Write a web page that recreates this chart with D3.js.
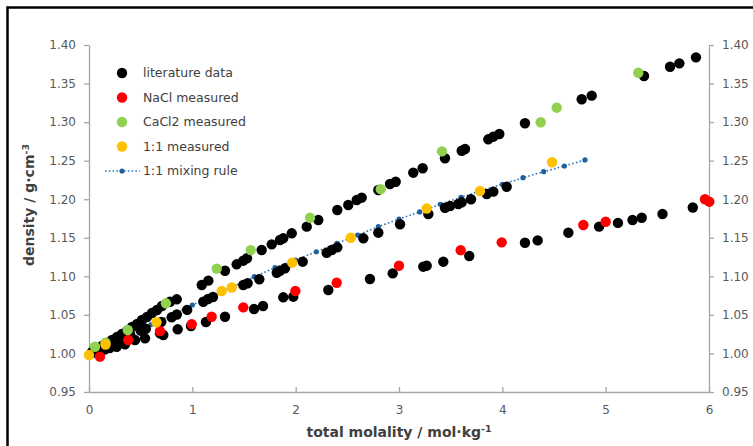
<!DOCTYPE html>
<html>
<head>
<meta charset="utf-8">
<script src="https://cdn.jsdelivr.net/npm/d3@7"></script>
<style>
  html, body { margin: 0; padding: 0; background: #fff; }
  svg { display: block; font-family: "DejaVu Sans", Verdana, sans-serif; }
</style>
</head>
<body>
<svg id="chart" width="753" height="446"></svg>
<script>
// ---- data: density (g/cm3) vs total molality (mol/kg) ----
const litMolality = [
  // CaCl2 literature
  0.029, 0.077, 0.126, 0.174, 0.223, 0.271, 0.319, 0.368, 0.416, 0.465, 0.513, 0.561, 0.610, 0.658, 0.706,
  0.784, 0.849, 1.091, 1.155, 1.316, 1.429, 1.493, 1.529, 1.671, 1.768, 1.848, 1.880, 1.962, 2.107, 2.219,
  2.403, 2.509, 2.591, 2.639, 2.800, 2.913, 2.968, 3.138, 3.229, 3.445, 3.607, 3.639, 3.864, 3.913, 3.971,
  4.219, 4.768, 4.865, 5.371, 5.623, 5.713, 5.874,
  // 1:1 mixture literature
  0.05, 0.10, 0.15, 0.20, 0.25, 0.30, 0.35, 0.40, 0.50, 0.55, 0.70, 0.80, 0.85, 0.95,
  1.106, 1.152, 1.200, 1.493, 1.535, 1.648, 1.817, 1.848, 1.897, 2.068, 2.300, 2.349, 2.403, 2.655, 2.800,
  3.010, 3.284, 3.445, 3.494, 3.574, 3.607, 3.697, 3.849, 3.913, 4.042,
  // NaCl literature
  0.05, 0.10, 0.15, 0.20, 0.268, 0.348, 0.445, 0.542, 0.687, 0.719, 0.858, 0.987, 1.132, 1.316, 1.597,
  1.684, 1.880, 1.977, 2.316, 2.719, 2.939, 3.235, 3.268, 3.429, 3.680, 4.219, 4.342, 4.639, 4.936, 5.119,
  5.260, 5.349, 5.550, 5.843
];
const litDensity = [
  1.0019, 1.0058, 1.0097, 1.0135, 1.0174, 1.0213, 1.0252, 1.0291, 1.0343, 1.0382, 1.0434, 1.0473, 1.0525, 1.0564, 1.0615,
  1.0671, 1.0702, 1.0888, 1.0944, 1.1073, 1.1156, 1.1203, 1.1234, 1.1341, 1.1415, 1.1471, 1.1493, 1.1558, 1.1644, 1.1731,
  1.1860, 1.1925, 1.1990, 1.2020, 1.2120, 1.2197, 1.2227, 1.2344, 1.2401, 1.2531, 1.2629, 1.2651, 1.2777, 1.2811, 1.2846,
  1.2985, 1.3296, 1.3343, 1.3598, 1.3718, 1.3762, 1.3840,
  1.0025, 1.0055, 1.0085, 1.0115, 1.0145, 1.0175, 1.0205, 1.0235, 1.0295, 1.0320, 1.0410, 1.0470, 1.0505, 1.0565,
  1.0671, 1.0706, 1.0732, 1.0888, 1.0910, 1.0962, 1.1047, 1.1073, 1.1104, 1.1190, 1.1306, 1.1341, 1.1376, 1.1493, 1.1566,
  1.1675, 1.1808, 1.1889, 1.1912, 1.1938, 1.1960, 1.1999, 1.2068, 1.2098, 1.2162,
  1.0010, 1.0030, 1.0050, 1.0070, 1.0087, 1.0118, 1.0174, 1.0196, 1.0261, 1.0239, 1.0313, 1.0356, 1.0408, 1.0476, 1.0576,
  1.0615, 1.0728, 1.0736, 1.0823, 1.0966, 1.1039, 1.1125, 1.1138, 1.1190, 1.1264, 1.1436, 1.1466, 1.1566, 1.1644, 1.1693,
  1.1731, 1.1760, 1.1808, 1.1893
];

const naclMolality = [0.106, 0.38, 0.687, 0.994, 1.187, 1.493, 1.997, 2.397, 3.000, 3.597, 3.994, 4.784, 5.000, 5.961, 6.003];
const naclDensity  = [0.9958, 1.0174, 1.0290, 1.0380, 1.0476, 1.0598, 1.0810, 1.0917, 1.1138, 1.1338, 1.1441, 1.1666, 1.1708, 1.1999, 1.1968];

const cacl2Molality = [0.058, 0.160, 0.375, 0.745, 1.236, 1.565, 2.139, 2.823, 3.416, 4.371, 4.526, 5.316];
const cacl2Density  = [1.0087, 1.0140, 1.0304, 1.0650, 1.1100, 1.1340, 1.1760, 1.2130, 1.2620, 1.2998, 1.3187, 1.3640];

const mixMeasMolality = [0.0, 0.160, 0.653, 1.284, 1.381, 1.967, 2.533, 3.268, 3.784, 4.481];
const mixMeasDensity  = [0.998, 1.0116, 1.0405, 1.0810, 1.0855, 1.1177, 1.1500, 1.1880, 1.2107, 1.2479];

const ruleMolality = [0.0, 0.2, 0.4, 0.6, 0.8, 1.0, 1.2, 1.4, 1.6, 1.8, 2.0, 2.2, 2.4, 2.6, 2.8, 3.0, 3.2, 3.4, 3.6, 3.8, 4.0, 4.2, 4.4, 4.6, 4.8];
const ruleDensity  = [0.998, 1.011, 1.024, 1.0375, 1.050, 1.0628, 1.075, 1.087, 1.0995, 1.1112, 1.1212, 1.1319, 1.1428, 1.1535, 1.1644,
                      1.1743, 1.1835, 1.1935, 1.2025, 1.2113, 1.2193, 1.2279, 1.2357, 1.2431, 1.2509];

const xTicks = [0, 1, 2, 3, 4, 5, 6];
const yTicks = [0.95, 1.00, 1.05, 1.10, 1.15, 1.20, 1.25, 1.30, 1.35, 1.40];

const legendLabels = ["literature data", "NaCl measured", "CaCl2 measured", "1:1 measured", "1:1 mixing rule"];

// ---- layout ----
const svg = d3.select("#chart");
const plot = { left: 89, right: 709, top: 45, bottom: 392 };
const x = d3.scaleLinear().domain([0, 6]).range([plot.left, plot.right]);
const y = d3.scaleLinear().domain([0.95, 1.40]).range([plot.bottom, plot.top]);

const axisColor = "#a6a6a6";
const labelColor = "#595959";

// outer frame
svg.append("rect")
  .attr("x", 7.5).attr("y", 7.5).attr("width", 800).attr("height", 500)
  .attr("fill", "none").attr("stroke", "#000").attr("stroke-width", 2.5);

function styleAxis(g) {
  g.select(".domain").attr("stroke", axisColor).attr("stroke-width", 1.3);
  g.selectAll(".tick line").attr("stroke", axisColor).attr("stroke-width", 1.3);
  g.selectAll(".tick text").attr("fill", labelColor).style("font-size", "12px")
    .style("font-family", "'DejaVu Sans', Verdana, sans-serif");
}

// left y axis
svg.append("g").attr("transform", `translate(${plot.left},0)`)
  .call(d3.axisLeft(y).tickValues(yTicks).tickFormat(d3.format(".2f")).tickSize(5).tickSizeOuter(0).tickPadding(8))
  .call(styleAxis);

// right y axis
svg.append("g").attr("transform", `translate(${plot.right},0)`)
  .call(d3.axisRight(y).tickValues(yTicks).tickFormat(d3.format(".2f")).tickSize(5).tickSizeOuter(0).tickPadding(8))
  .call(styleAxis);

// x axis (ticks pointing into the plot)
svg.append("g").attr("transform", `translate(0,${plot.bottom})`)
  .call(d3.axisBottom(x).tickValues(xTicks).tickFormat(d3.format("d")).tickSizeInner(-5).tickSizeOuter(0).tickPadding(13))
  .call(styleAxis);

// axis titles
const xTitle = svg.append("text")
  .attr("x", (plot.left + plot.right) / 2).attr("y", 437)
  .attr("text-anchor", "middle")
  .attr("fill", "#404040").style("font-size", "14px").style("font-weight", "bold");
xTitle.append("tspan").text("total molality / mol·kg");
xTitle.append("tspan").attr("dy", -5).style("font-size", "9.5px").text("-1");

const yTitle = svg.append("text")
  .attr("transform", "translate(34,205) rotate(-90)")
  .attr("text-anchor", "middle")
  .attr("fill", "#404040").style("font-size", "14px").style("font-weight", "bold");
yTitle.append("tspan").text("density / g·cm");
yTitle.append("tspan").attr("dy", -5).style("font-size", "9.5px").text("-3");

// ---- marks ----
const R = 5.2;
const colors = { lit: "#000000", nacl: "#ff0000", cacl2: "#92d050", mix: "#ffc000", rule: "#2e75b6", ruleDot: "#1f5f9e" };

function zipPts(xs, ys) { return xs.map((v, i) => [v, ys[i]]); }

// mixing rule: dotted line with small dots
const rulePts = zipPts(ruleMolality, ruleDensity);
svg.append("path")
  .datum(rulePts)
  .attr("d", d3.line().x(d => x(d[0])).y(d => y(d[1])))
  .attr("fill", "none").attr("stroke", colors.rule).attr("stroke-width", 1.6)
  .attr("stroke-dasharray", "1.6,2.2");
svg.append("g").selectAll("circle").data(rulePts).join("circle")
  .attr("cx", d => x(d[0])).attr("cy", d => y(d[1])).attr("r", 2.6).attr("fill", colors.ruleDot);

function scatter(xs, ys, color) {
  svg.append("g").selectAll("circle").data(zipPts(xs, ys)).join("circle")
    .attr("cx", d => x(d[0])).attr("cy", d => y(d[1])).attr("r", R).attr("fill", color);
}
scatter(litMolality, litDensity, colors.lit);
scatter(naclMolality, naclDensity, colors.nacl);
scatter(cacl2Molality, cacl2Density, colors.cacl2);
scatter(mixMeasMolality, mixMeasDensity, colors.mix);

// ---- legend ----
const legend = svg.append("g");
const legendColors = [colors.lit, colors.nacl, colors.cacl2, colors.mix];
legendLabels.forEach((label, i) => {
  const ly = 73 + i * 24.5;
  if (i < 4) {
    legend.append("circle").attr("cx", 122).attr("cy", ly).attr("r", R).attr("fill", legendColors[i]);
  } else {
    legend.append("line").attr("x1", 105).attr("x2", 140).attr("y1", ly).attr("y2", ly)
      .attr("stroke", colors.rule).attr("stroke-width", 1.6).attr("stroke-dasharray", "1.6,2.2");
    legend.append("circle").attr("cx", 122).attr("cy", ly).attr("r", 2.6).attr("fill", colors.ruleDot);
  }
  legend.append("text").attr("x", 143).attr("y", ly).attr("dy", "0.35em")
    .attr("fill", "#404040").style("font-size", "12.5px").text(label);
});
</script>
</body>
</html>
